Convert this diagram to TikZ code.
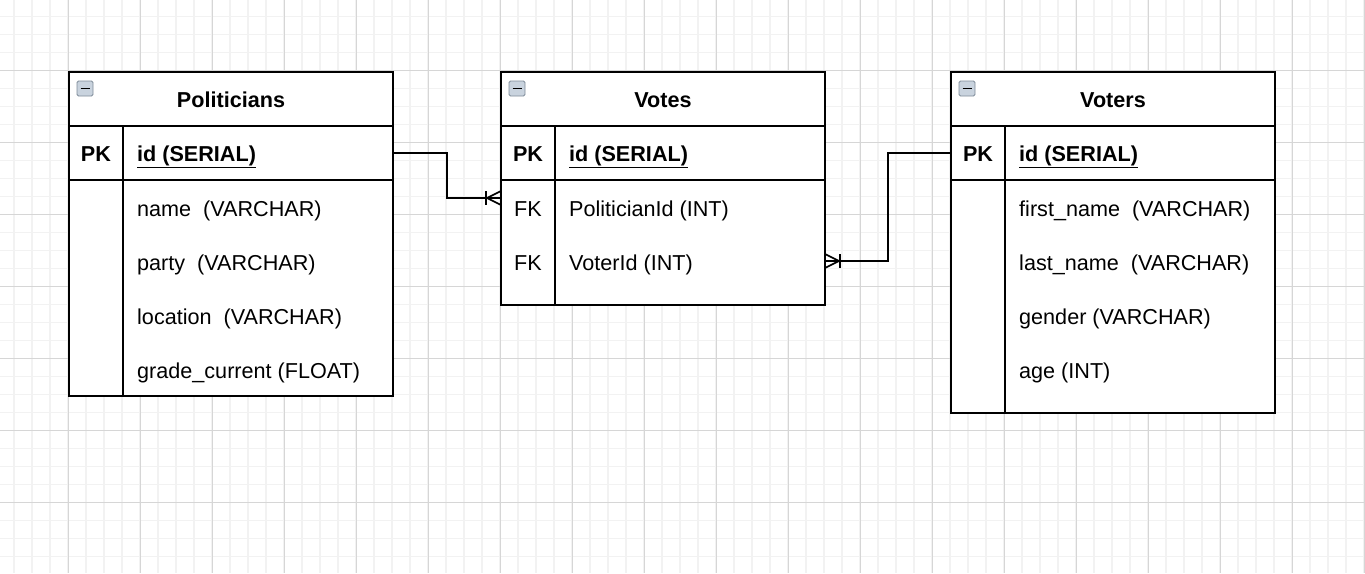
\documentclass[tikz,border=0pt]{standalone}
\usepackage{fontspec}
\setmainfont{Liberation Sans}
\definecolor{minorgrid}{HTML}{F2F2F2}
\definecolor{majorgrid}{HTML}{D6D6D6}
\definecolor{iconfill}{HTML}{C9D3DE}
\definecolor{iconline}{HTML}{7F8C99}
\begin{document}
\begin{tikzpicture}[x=1pt,y=-1pt,
  tbl/.style={draw=black,line width=1.6pt,rectangle,inner sep=0pt,minimum width=324pt},
  sep/.style={draw=black,line width=1.6pt},
  txtbase/.style={font=\fontsize{21.6}{26}\selectfont,inner sep=0pt,text height=16pt,text depth=0pt},
  title/.style={txtbase,font=\fontsize{21.6}{26}\selectfont\bfseries},
  keytxt/.style={txtbase},
  pktxt/.style={txtbase,font=\fontsize{21.6}{26}\selectfont\bfseries},
  fieldtxt/.style={txtbase,anchor=west},
  pkfield/.style={txtbase,font=\fontsize{21.6}{26}\selectfont\bfseries,anchor=west},
  pkrow/.style={rectangle,inner sep=0pt,minimum width=324pt,minimum height=54pt},
  conn/.style={draw=black,line width=1.6pt},
  icon/.style={draw=iconline,fill=iconfill,rounded corners=1.5pt,line width=0.8pt}
]
\useasboundingbox (0,0) rectangle (1365,573);
\fill[white] (0,0) rectangle (1365,573);
% grid
\foreach \x in {14,32,...,1364} \draw[minorgrid,line width=1.5pt] (\x,0) -- (\x,573);
\foreach \y in {16.5,34.5,...,573} \draw[minorgrid,line width=1.5pt] (0,\y) -- (1365,\y);
\foreach \x in {68,140,...,1364} \draw[majorgrid,line width=1pt] (\x,0) -- (\x,573);
\foreach \y in {70.5,142.5,...,573} \draw[majorgrid,line width=1pt] (0,\y) -- (1365,\y);

% ---------- Politicians ----------
\node[tbl,fill=white,minimum height=324pt] (pol) at (231,234) {};
\draw[sep] (69,126) -- (393,126);
\draw[sep] (69,180) -- (393,180);
\draw[sep] (123,126) -- (123,396);
\draw[icon] (77,81) rectangle (93,96);
\draw[black,line width=1.6pt] (80.5,88.5) -- (89.5,88.5);
\node[title] (poltitle) at (231,99) {Politicians};
\node[pkrow] (polpk) at (231,153) {};
\node[pktxt] (polpkk) at (96,153) {PK};
\node[pkfield] (polid) at (137,153) {\underline{id (SERIAL)}};
\node[fieldtxt] (polf1) at (137,208) {name\ \ (VARCHAR)};
\node[fieldtxt] (polf2) at (137,262) {party\ \ (VARCHAR)};
\node[fieldtxt] (polf3) at (137,316) {location\ \ (VARCHAR)};
\node[fieldtxt] (polf4) at (137,370) {grade\_current (FLOAT)};

% ---------- Votes ----------
\node[tbl,fill=white,minimum height=233pt] (vot) at (663,188.5) {};
\draw[sep] (501,126) -- (825,126);
\draw[sep] (501,180) -- (825,180);
\draw[sep] (555,126) -- (555,305);
\draw[icon] (509,81) rectangle (525,96);
\draw[black,line width=1.6pt] (512.5,88.5) -- (521.5,88.5);
\node[title] (vottitle) at (663,99) {Votes};
\node[pkrow] (votpk) at (663,153) {};
\node[pktxt] (votpkk) at (528,153) {PK};
\node[pkfield] (votid) at (569,153) {\underline{id (SERIAL)}};
\node[keytxt] (votfk1) at (528,208) {FK};
\node[fieldtxt] (votf1) at (569,208) {PoliticianId (INT)};
\node[keytxt] (votfk2) at (528,262) {FK};
\node[fieldtxt] (votf2) at (569,262) {VoterId (INT)};

% ---------- Voters ----------
\node[tbl,fill=white,minimum height=341pt] (vtr) at (1113,242.5) {};
\draw[sep] (951,126) -- (1275,126);
\draw[sep] (951,180) -- (1275,180);
\draw[sep] (1005,126) -- (1005,413);
\draw[icon] (959,81) rectangle (975,96);
\draw[black,line width=1.6pt] (962.5,88.5) -- (971.5,88.5);
\node[title] (vtrtitle) at (1113,99) {Voters};
\node[pkrow] (vtrpk) at (1113,153) {};
\node[pktxt] (vtrpkk) at (978,153) {PK};
\node[pkfield] (vtrid) at (1019,153) {\underline{id (SERIAL)}};
\node[fieldtxt] (vtrf1) at (1019,208) {first\_name\ \ (VARCHAR)};
\node[fieldtxt] (vtrf2) at (1019,262) {last\_name\ \ (VARCHAR)};
\node[fieldtxt] (vtrf3) at (1019,316) {gender (VARCHAR)};
\node[fieldtxt] (vtrf4) at (1019,370) {age (INT)};

% ---------- connectors ----------
\coordinate (e1) at (501,198);
\coordinate (e2) at (825,261);
\draw[conn] (polpk.east) -- (447,153) -- (447,198) -- (e1);
\draw[conn] ([xshift=-15pt]e1) ++(0,-7) -- ++(0,14);
\draw[conn] ([xshift=-14pt]e1) -- ([yshift=-7pt]e1);
\draw[conn] ([xshift=-14pt]e1) -- ([yshift=7pt]e1);
\draw[conn] (vtrpk.west) -- (888,153) -- (888,261) -- (e2);
\draw[conn] ([xshift=15pt]e2) ++(0,-7) -- ++(0,14);
\draw[conn] ([xshift=14pt]e2) -- ([yshift=-7pt]e2);
\draw[conn] ([xshift=14pt]e2) -- ([yshift=7pt]e2);
\end{tikzpicture}
\end{document}
